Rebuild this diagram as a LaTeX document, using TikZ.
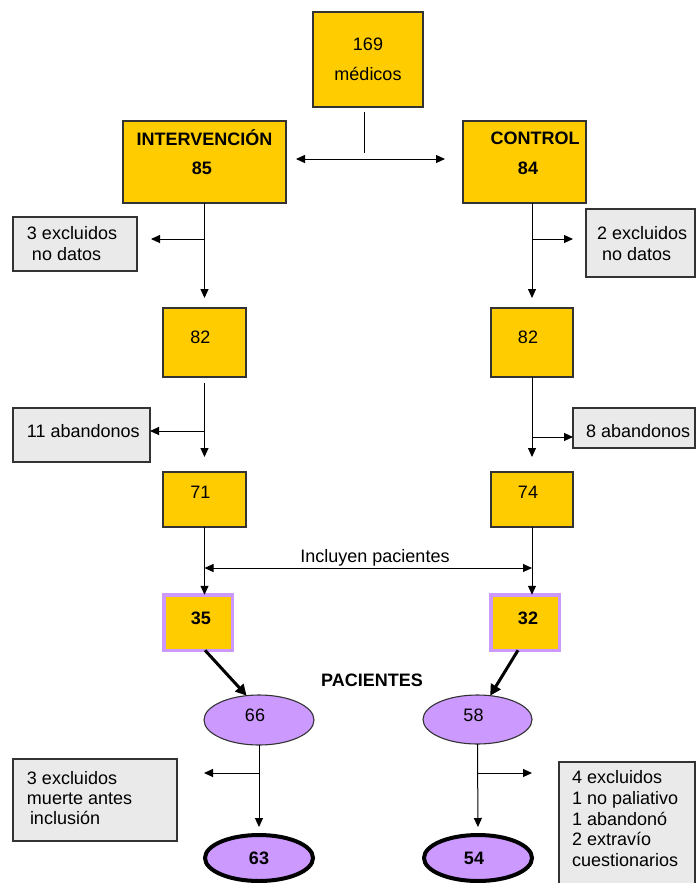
\documentclass[tikz,border=0pt]{standalone}
\usepackage{fontspec}
\setmainfont{Liberation Sans}
\usetikzlibrary{arrows.meta,shapes.geometric}
\definecolor{ybox}{HTML}{FFCC00}
\definecolor{gbox}{HTML}{EAEAEA}
\definecolor{pur}{HTML}{CC99FF}
\definecolor{edgec}{HTML}{333333}
\newcommand{\shl}[1]{#1\hspace*{8pt}}
\newcommand{\shr}[1]{\hspace*{6pt}#1}
\begin{document}
\begin{tikzpicture}[x=1pt,y=-1pt,
  every node/.style={inner sep=0pt,outer sep=0pt,font=\fontsize{18}{21}\selectfont},
  ybx/.style={rectangle,draw=edgec,line width=1.1pt,fill=ybox},
  gbx/.style={rectangle,draw=edgec,line width=1.1pt,fill=gbox},
  pbx/.style={rectangle,draw=pur,line width=3.5pt,fill=ybox,font=\fontsize{18}{21}\selectfont\bfseries},
  ell/.style={ellipse,draw=edgec,line width=1.1pt,fill=pur},
  bell/.style={ellipse,draw=black,line width=4pt,fill=pur,font=\fontsize{18}{21}\selectfont\bfseries},
  tup/.style={text height=13pt,text depth=#1},
  ltxt/.style={align=left,anchor=north west},
  plain/.style={draw=black,line width=1pt},
  conn/.style={draw=black,line width=1pt,-{Triangle[length=9pt,width=8pt]}},
  dconn/.style={draw=black,line width=1pt,{Triangle[length=9pt,width=8pt]}-{Triangle[length=9pt,width=8pt]}},
  bigconn/.style={draw=black,line width=3pt,-{Triangle[length=11pt,width=11pt]}}
]
\clip (0,0) rectangle (696,883);
\fill[white] (0,0) rectangle (696,883);

% top
\node[ybx,minimum width=110pt,minimum height=95pt,align=center,font=\fontsize{18}{30}\selectfont] (med) at (368,59.5) {169\\médicos};
\node[ybx,minimum width=163pt,minimum height=82pt] (intB) at (204.5,162) {};
\node[font=\fontsize{18}{21}\selectfont\bfseries] (intT) at (204.5,138) {INTERVENCIÓN};
\node[font=\fontsize{18}{21}\selectfont\bfseries] (intN) at (202,168) {85};
\node[ybx,minimum width=123pt,minimum height=82pt] (ctlB) at (524.5,162) {};
\node[font=\fontsize{18}{21}\selectfont\bfseries] (ctlT) at (535,138) {CONTROL};
\node[font=\fontsize{18}{21}\selectfont\bfseries] (ctlN) at (528,168) {84};

% excluded boxes
\node[gbx,minimum width=124pt,minimum height=54pt] (ex1) at (75,244) {};
\node[ltxt] (ex1t) at (27,226.5) {3 excluidos\\\hspace*{5pt}no datos};
\node[gbx,minimum width=109pt,minimum height=68pt] (ex2) at (640.5,243) {};
\node[ltxt] (ex2t) at (597,226.5) {2 excluidos\\\hspace*{5pt}no datos};
\node[gbx,minimum width=137pt,minimum height=54pt] (ex3) at (81.5,435) {};
\node[ltxt] (ex3t) at (27,424.5) {11 abandonos};
\node[gbx,minimum width=122pt,minimum height=40pt] (ex4) at (634,428) {};
\node[ltxt] (ex4t) at (586,424.5) {8 abandonos};

% yellow columns
\node[ybx,minimum width=83pt,minimum height=69pt,tup=11pt] (b82L) at (204.5,342.5) {\shl{82}};
\node[ybx,minimum width=82pt,minimum height=69pt,tup=11pt] (b82R) at (532,342.5) {\shl{82}};
\node[ybx,minimum width=83pt,minimum height=55pt,tup=15pt] (b71) at (204.5,499.5) {\shl{71}};
\node[ybx,minimum width=82pt,minimum height=55pt,tup=15pt] (b74) at (532,499.5) {\shl{74}};
\node[pbx,minimum width=68.5pt,minimum height=55.5pt,tup=9pt] (b35) at (198,622.5) {\shr{35}};
\node[pbx,minimum width=68.5pt,minimum height=55.5pt,tup=9pt] (b32) at (525,622.5) {\shr{32}};

\node (inc) at (375,558) {Incluyen pacientes};
\node[font=\fontsize{18}{21}\selectfont\bfseries] (pac) at (372,680) {PACIENTES};

% ellipses
\node[ell,minimum width=110pt,minimum height=50pt,tup=10pt] (e66) at (259,720) {\shl{66}};
\node[ell,minimum width=109pt,minimum height=49pt,tup=10pt] (e58) at (477.5,719.5) {\shl{58}};
\node[bell,minimum width=108pt,minimum height=46pt] (e63) at (259,858) {63};
\node[bell,minimum width=108pt,minimum height=46pt] (e54) at (478,858) {\shl{54}};

\node[gbx,minimum width=164pt,minimum height=82pt] (ex5) at (95,800) {};
\node[ltxt,font=\fontsize{18}{20}\selectfont] (ex5t) at (27,771.5) {3 excluidos\\muerte antes\\\hspace*{3pt}inclusión};
\node[gbx,minimum width=136pt,minimum height=140pt] (ex6) at (627,832) {};
\node[ltxt,font=\fontsize{18}{20.75}\selectfont] (ex6t) at (572,770.5) {4 excluidos\\1 no paliativo\\1 abandonó\\2 extravío\\cuestionarios};

% connectors top
\draw[plain] ([xshift=-4pt,yshift=-5pt]med.south) -- ([xshift=-4pt,yshift=-46pt]med.south);
\draw[dconn] ([xshift=10pt,yshift=3pt]intB.east) -- ([xshift=-18pt,yshift=3pt]ctlB.west);

% left column
\draw[conn,shorten >=10pt] (intB.south) -- (b82L.north);
\path (intB.south) ++(0,36) coordinate (brA);
\draw[conn,shorten >=14pt] (brA) -- (brA -| ex1.east);
\draw[conn,shorten <=6pt,shorten >=15pt] (b82L.south) -- (b71.north);
\path (b82L.south) ++(0,54) coordinate (brC);
\draw[conn] (brC) -- (brC -| ex3.east);
\draw[conn] (b71.south) -- (b71.south |- b35.north);

% right column
\draw[conn,shorten >=10pt] (b82R.north |- ctlB.south) -- (b82R.north);
\path (b82R.north |- ctlB.south) ++(0,36) coordinate (brB);
\draw[conn,shorten >=13pt] (brB) -- (brB -| ex2.west);
\draw[conn,shorten >=15pt] (b82R.south) -- (b74.north);
\path (b82R.south) ++(0,60) coordinate (brD);
\draw[conn] (brD) -- (brD -| ex4.west);
\draw[conn] (b74.south) -- (b74.south |- b32.north);

% incluyen
\path (b71.south) ++(0,41) coordinate (incL);
\path (b74.south) ++(0,41) coordinate (incR);
\draw[dconn] (incL) -- (incR);

% thick arrows
\draw[bigconn] ([xshift=7pt]b35.south) -- (e66.117);
\draw[bigconn] ([xshift=-7pt]b32.south) -- (e58.62);

% bottom
\draw[conn,shorten >=8pt] (e66.south) -- (e63.north);
\path (e66.south) ++(0,28) coordinate (brE);
\draw[conn,shorten >=27pt] (brE) -- (brE -| ex5.east);
\draw[conn,shorten >=8pt] (e58.south) -- (e54.north);
\path (e58.south) ++(0,29) coordinate (brF);
\draw[conn,shorten >=27pt] (brF) -- (brF -| ex6.west);
\end{tikzpicture}
\end{document}
